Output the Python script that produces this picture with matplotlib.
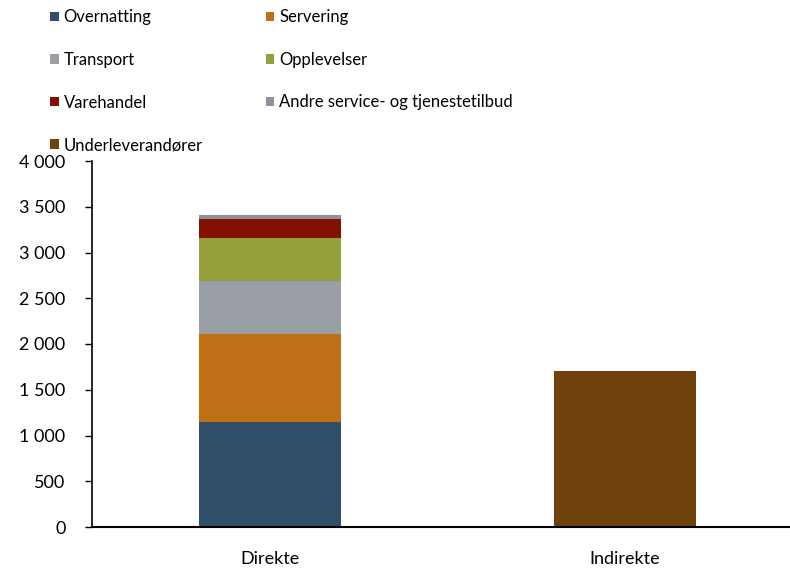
import matplotlib
matplotlib.use("Agg")
import matplotlib.pyplot as plt
from matplotlib.patches import Patch
from matplotlib.ticker import FuncFormatter

plt.rcParams['font.family'] = ['Lato', 'DejaVu Sans']

# === Données ===
categories = ["Direkte", "Indirekte"]
serier = ["Overnatting", "Servering", "Transport", "Opplevelser",
          "Varehandel", "Andre service- og tjenestetilbud", "Underleverandører"]
verdier = {
    "Overnatting": [1150, 0],
    "Servering": [960, 0],
    "Transport": [580, 0],
    "Opplevelser": [470, 0],
    "Varehandel": [210, 0],
    "Andre service- og tjenestetilbud": [35, 0],
    "Underleverandører": [0, 1700],
}
farger = {
    "Overnatting": "#304d69",
    "Servering": "#c07014",
    "Transport": "#9a9ea5",
    "Opplevelser": "#95a03b",
    "Varehandel": "#841100",
    "Andre service- og tjenestetilbud": "#8a929d",
    "Underleverandører": "#6f410c",
}
y_ticks = [0, 500, 1000, 1500, 2000, 2500, 3000, 3500, 4000]

fig = plt.figure(figsize=(7.9, 5.68), dpi=100)
ax = fig.add_axes([92 / 790, 41 / 568, 710 / 790, 366 / 568])

x = list(range(len(categories)))
bunn = [0, 0]
for s in serier:
    v = verdier[s]
    ax.bar(x, v, 0.4, bottom=bunn, color=farger[s], label=s)
    bunn = [b + vv for b, vv in zip(bunn, v)]

ax.set_xlim(-0.5, 1.5)
ax.set_ylim(0, 4000)
ax.set_yticks(y_ticks)
ax.yaxis.set_major_formatter(FuncFormatter(lambda v, p: f"{int(v):,}".replace(",", " ")))
ax.set_xticks(x)
ax.set_xticklabels(categories)
ax.spines["top"].set_visible(False)
ax.spines["right"].set_visible(False)
ax.spines["left"].set_linewidth(1.2)
ax.spines["bottom"].set_linewidth(1.5)
ax.tick_params(axis="y", length=5, width=1.0, labelsize=13, pad=14, colors="black")
ax.tick_params(axis="x", length=0, labelsize=13, pad=17)

# Légende : ordre colonne par colonne
rekkefolge = ["Overnatting", "Transport", "Varehandel", "Underleverandører",
              "Servering", "Opplevelser", "Andre service- og tjenestetilbud"]
handles = [Patch(facecolor=farger[s], label=s) for s in rekkefolge]
fig.legend(handles=handles, ncol=2, loc="upper left", bbox_to_anchor=(41 / 790, 1.0),
           frameon=False, fontsize=12,
           handlelength=0.5, handleheight=0.5, handletextpad=0.3,
           labelspacing=1.6, columnspacing=3.8, borderaxespad=0.15)

fig.savefig("out.png", dpi=100)
